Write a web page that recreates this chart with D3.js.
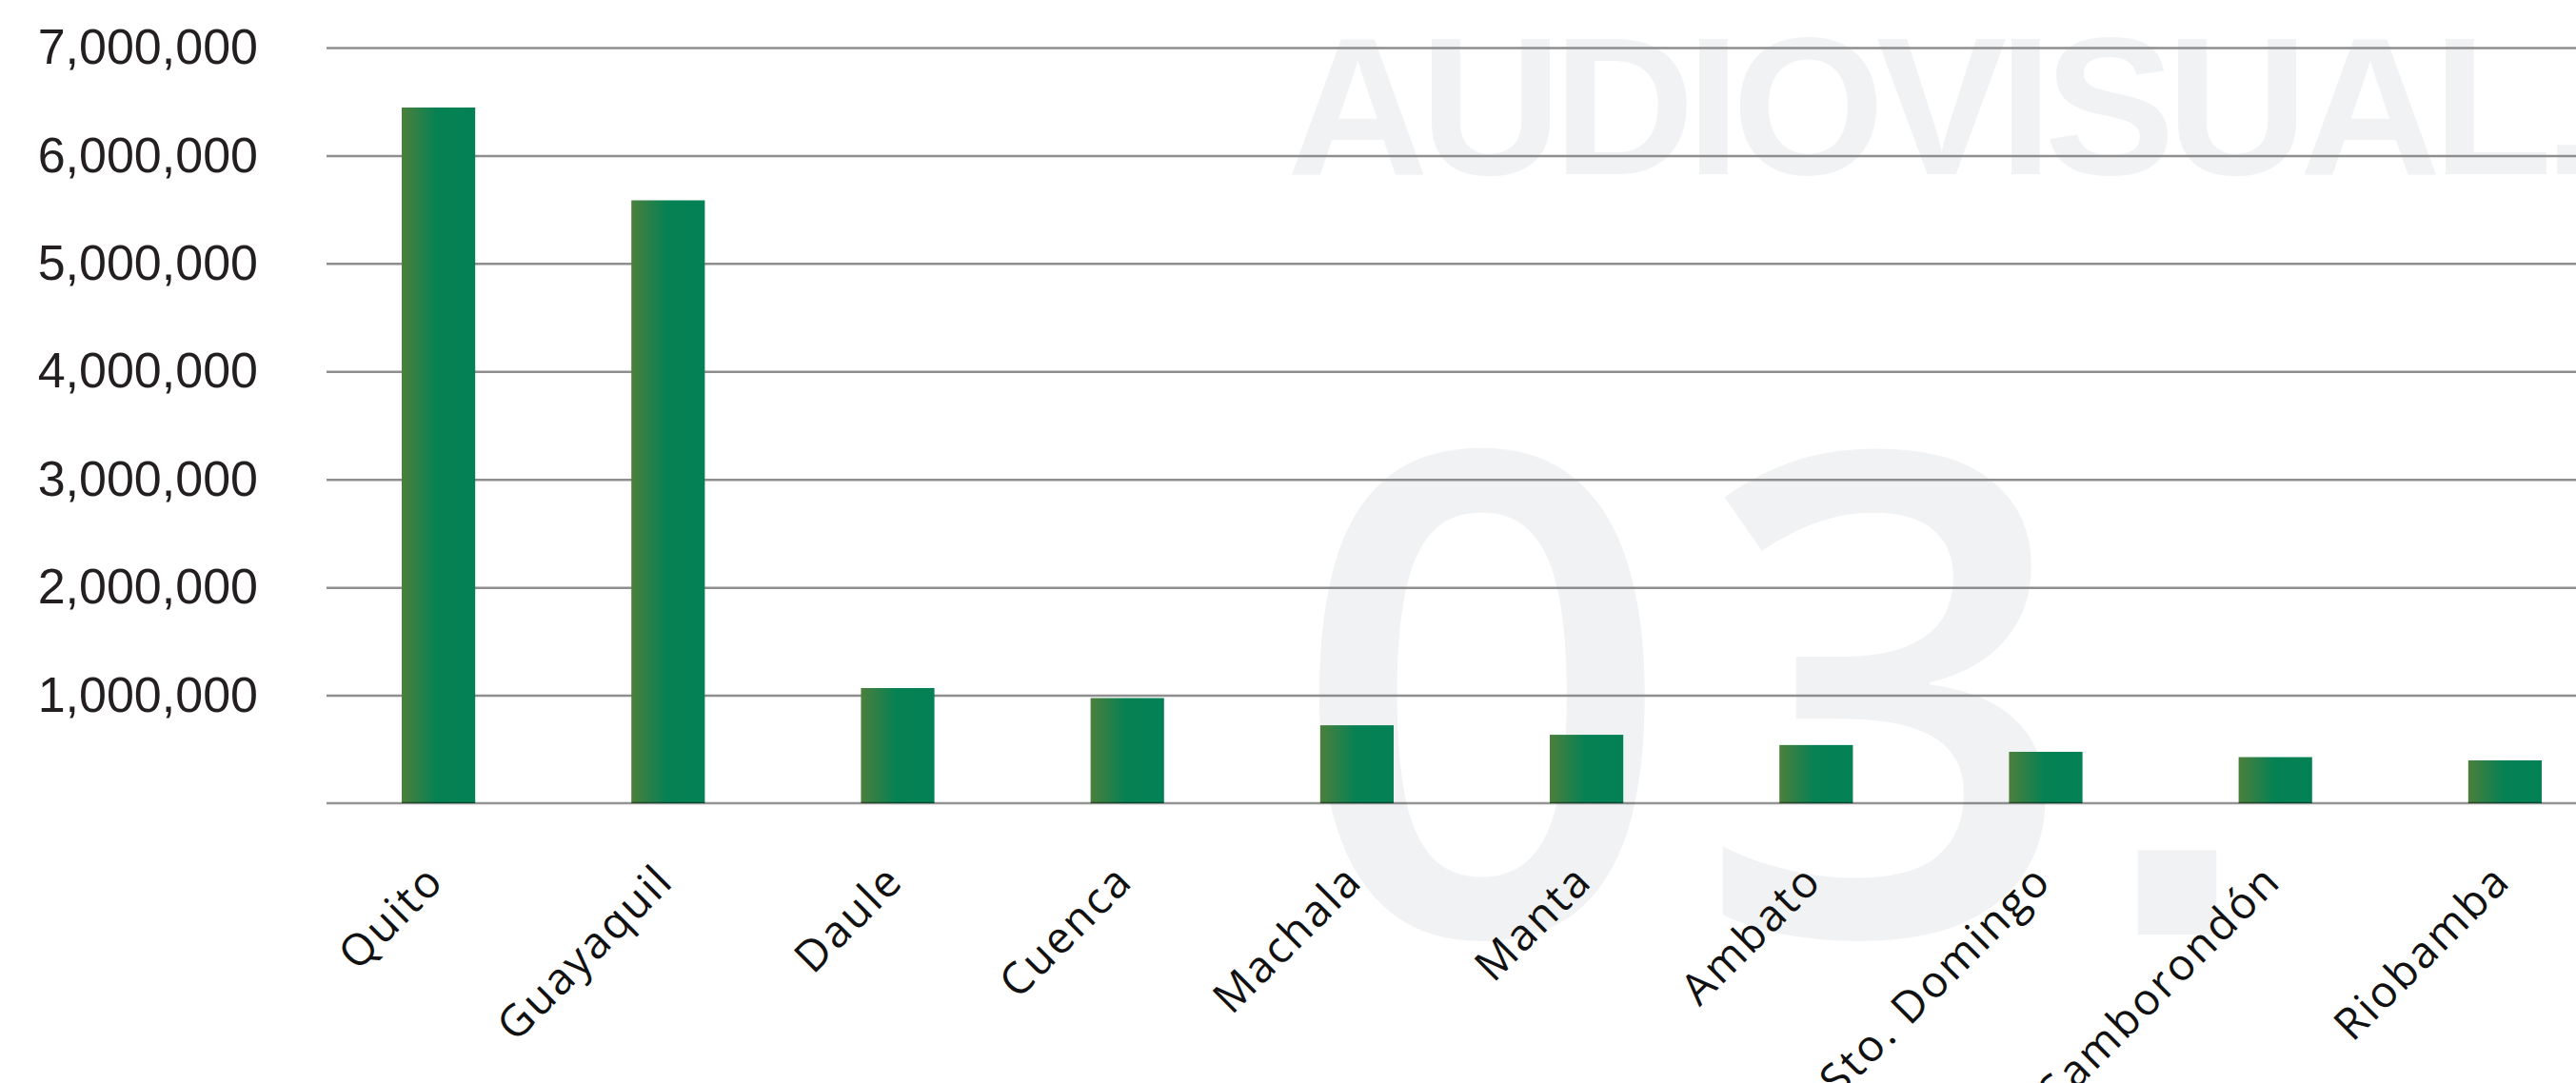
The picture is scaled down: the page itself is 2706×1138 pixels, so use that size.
<!DOCTYPE html>
<html>
<head>
<meta charset="utf-8">
<script src="https://cdn.jsdelivr.net/npm/d3@7"></script>
<style>
  body { margin: 0; background: #fff; }
  svg { display: block; }
</style>
</head>
<body>
<div id="chart"></div>
<script>
// data
const cities = ["Quito", "Guayaquil", "Daule", "Cuenca", "Machala", "Manta",
                "Ambato", "Sto. Domingo", "Samborondón", "Riobamba"];
const values = [6445000, 5585000, 1067000, 974000, 722000, 634000,
                539000, 476000, 427000, 397000];
const yTicks = [1000000, 2000000, 3000000, 4000000, 5000000, 6000000, 7000000];

// size of the page
const W = 2706, H = 1138;
var margin = {left: 343, top: 50, base: 844};

var svg = d3.select("#chart")
  .append("svg")
  .attr("width", W)
  .attr("height", H)
  .style("background", "#fff");

// bar gradient
var grad = svg.append("defs").append("linearGradient")
  .attr("id", "barGrad")
  .attr("x1", "0%").attr("x2", "100%")
  .attr("y1", "0%").attr("y2", "0%");
grad.append("stop").attr("offset", "0%").attr("stop-color", "#4c7f3c");
grad.append("stop").attr("offset", "48%").attr("stop-color", "#068154");
grad.append("stop").attr("offset", "100%").attr("stop-color", "#038155");

// watermarks behind everything
var wm = svg.append("g").attr("fill", "#f1f2f4");
wm.append("text")
  .attr("x", 1352).attr("y", 183)
  .style("font-family", "'Liberation Sans', Arial, sans-serif")
  .style("font-weight", "bold")
  .style("font-size", "206px")
  .style("letter-spacing", "-9px")
  .text("AUDIOVISUAL.");

var big = wm.append("text")
  .attr("y", 982)
  .style("font-family", "'Open Sans', 'Liberation Sans', sans-serif")
  .style("font-weight", 600)
  .style("font-size", "705px")
  .attr("text-anchor", "middle");
big.append("tspan").attr("x", 1557).text("0");
big.append("tspan").attr("x", 1982).text("3");

// square full stop of the "03." mark
wm.append("text")
  .attr("x", 2287).attr("y", 982)
  .attr("text-anchor", "middle")
  .style("font-family", "'DejaVu Sans', sans-serif")
  .style("font-weight", "bold")
  .style("font-size", "470px")
  .text(".");

// scales
var x = d3.scaleBand()
  .domain(cities)
  .range([340, 2752])
  .paddingInner(0.68)
  .paddingOuter(0.34);

var y = d3.scaleLinear()
  .domain([0, 7000000])
  .range([margin.base, margin.top]);

// y axis with grid lines
var yAxis = d3.axisLeft(y)
  .tickValues(yTicks)
  .tickFormat(d3.format(","))
  .tickSizeInner(-(W - margin.left))
  .tickSizeOuter(0)
  .tickPadding(72);

var gy = svg.append("g")
  .attr("transform", "translate(" + margin.left + ",0)")
  .call(yAxis);
gy.select(".domain").remove();
gy.selectAll(".tick line")
  .attr("stroke", "#8e8e8e")
  .attr("stroke-width", 2.5);
gy.selectAll(".tick text")
  .attr("fill", "#231f20")
  .style("font-family", "'Liberation Sans', Arial, sans-serif")
  .style("font-size", "52px");

// bars
svg.append("g")
  .selectAll("rect")
  .data(values)
  .enter()
  .append("rect")
  .attr("x", function(d, i) { return x(cities[i]); })
  .attr("width", x.bandwidth())
  .attr("y", function(d) { return y(d); })
  .attr("height", function(d) { return y(0) - y(d); })
  .attr("fill", "url(#barGrad)");

// baseline on top of bars
svg.append("line")
  .attr("x1", margin.left).attr("x2", W)
  .attr("y1", y(0)).attr("y2", y(0))
  .attr("stroke", "#000")
  .attr("stroke-opacity", 0.42)
  .attr("stroke-width", 2.5);

// x axis, rotated labels
var xAxis = d3.axisBottom(x).tickSize(0);
var gx = svg.append("g")
  .attr("transform", "translate(0," + y(0) + ")")
  .call(xAxis);
gx.select(".domain").remove();
gx.selectAll(".tick text")
  .attr("x", 0).attr("y", 0).attr("dy", 0)
  .attr("transform", "translate(8,84) rotate(-45)")
  .attr("text-anchor", "end")
  .attr("fill", "#111")
  .style("font-family", "'Open Sans', sans-serif")
  .style("font-size", "46px")
  .style("letter-spacing", "2.5px");
</script>
</body>
</html>
